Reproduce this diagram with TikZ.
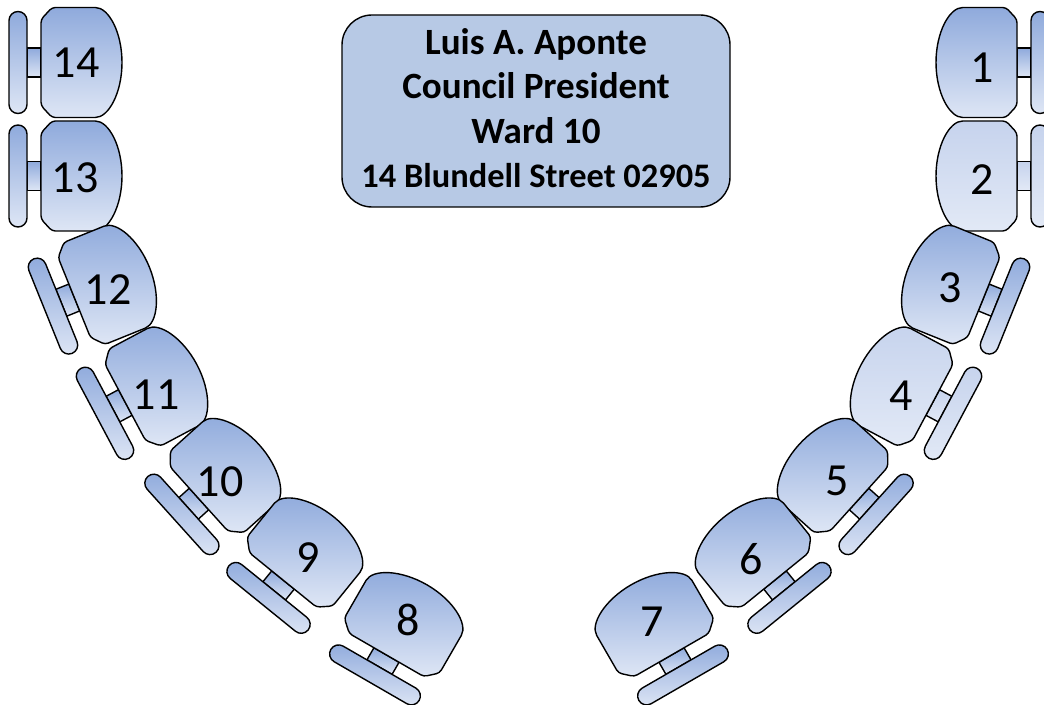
\documentclass[tikz,border=0pt]{standalone}
\usepackage{fontspec}
\setmainfont{Carlito}
\definecolor{seatTop}{RGB}{143,170,220}
\definecolor{seatBot}{RGB}{222,230,245}
\definecolor{lightTop}{RGB}{198,211,237}
\definecolor{lightBot}{RGB}{226,233,246}
\definecolor{boxFill}{RGB}{183,201,229}
\tikzset{
  chairline/.style={draw=black, line width=1.05pt},
  seatfill/.style={top color=seatTop, bottom color=seatBot},
  lightfill/.style={top color=lightTop, bottom color=lightBot},
  pics/chair/.style={code={
    \shade[chairline, #1] (-14,-14.5) rectangle (0,14.5);
    \shade[chairline, #1, rounded corners=6.75pt] (-32,-51) rectangle (-14,51);
    \shade[chairline, #1, rounded corners=2.5pt] (0,-43) -- (0,43) -- (11,55) -- (51,55)
      arc[start angle=90, end angle=-90, x radius=30, y radius=55] -- (11,-55) -- cycle;
  }},
  num/.style={font=\fontsize{34.5}{40}\selectfont, inner sep=0pt, text=black},
  infobox/.style={draw=black, line width=1.05pt, fill=boxFill, rounded corners=22.5pt,
    minimum width=291pt, minimum height=144pt, inner sep=0pt},
  boxtext/.style={align=center, inner sep=0pt,
    font=\bfseries\fontsize{27.8}{33.2}\selectfont}
}
\begin{document}
\begin{tikzpicture}[x=0.75pt, y=-0.75pt]
\useasboundingbox (0,0) rectangle (1044,705);
\clip (0,0) rectangle (1044,705);
% left side
\pic at (41,62.5) {chair=seatfill};
\pic at (41,176) {chair=seatfill};
\pic[rotate=22] at (74.3,297.5) {chair=seatfill};
\pic[rotate=28] at (125.3,402.5) {chair=seatfill};
\pic[rotate=42] at (199,499) {chair=seatfill};
\pic[rotate=51] at (283,580) {chair=seatfill};
\pic[rotate=60] at (386.5,655) {chair=seatfill};
% right side (mirrored)
\pic[xscale=-1] at (1017,62.5) {chair=seatfill};
\pic[xscale=-1] at (1017,176) {chair=lightfill};
\pic[rotate=-22, xscale=-1] at (983.7,297.5) {chair=seatfill};
\pic[rotate=-28, xscale=-1] at (932.7,402.5) {chair=lightfill};
\pic[rotate=-42, xscale=-1] at (859,499) {chair=seatfill};
\pic[rotate=-51, xscale=-1] at (775,580) {chair=seatfill};
\pic[rotate=-60, xscale=-1] at (671.5,655) {chair=seatfill};
% numbers
\node[num] (n14) at (76,62.5) {14};
\node[num] (n13) at (75,178) {13};
\node[num] (n12) at (108,290) {12};
\node[num] (n11) at (156,395) {11};
\node[num] (n10) at (220,482) {10};
\node[num] (n9) at (308,558) {9};
\node[num] (n8) at (408,620) {8};
\node[num] (n1) at (982.5,67.5) {1};
\node[num] (n2) at (982,180) {2};
\node[num] (n3) at (950,288) {3};
\node[num] (n4) at (901,396) {4};
\node[num] (n5) at (837.5,481) {5};
\node[num] (n6) at (751,559) {6};
\node[num] (n7) at (652,622) {7};
% info box
\node[infobox] (box) at (536,111) {};
\node[boxtext] (title) at (536,108) {Luis A. Aponte\\Council President\\Ward 10\\\fontsize{25.8}{33.2}\selectfont 14 Blundell Street 02905};
\end{tikzpicture}
\end{document}
